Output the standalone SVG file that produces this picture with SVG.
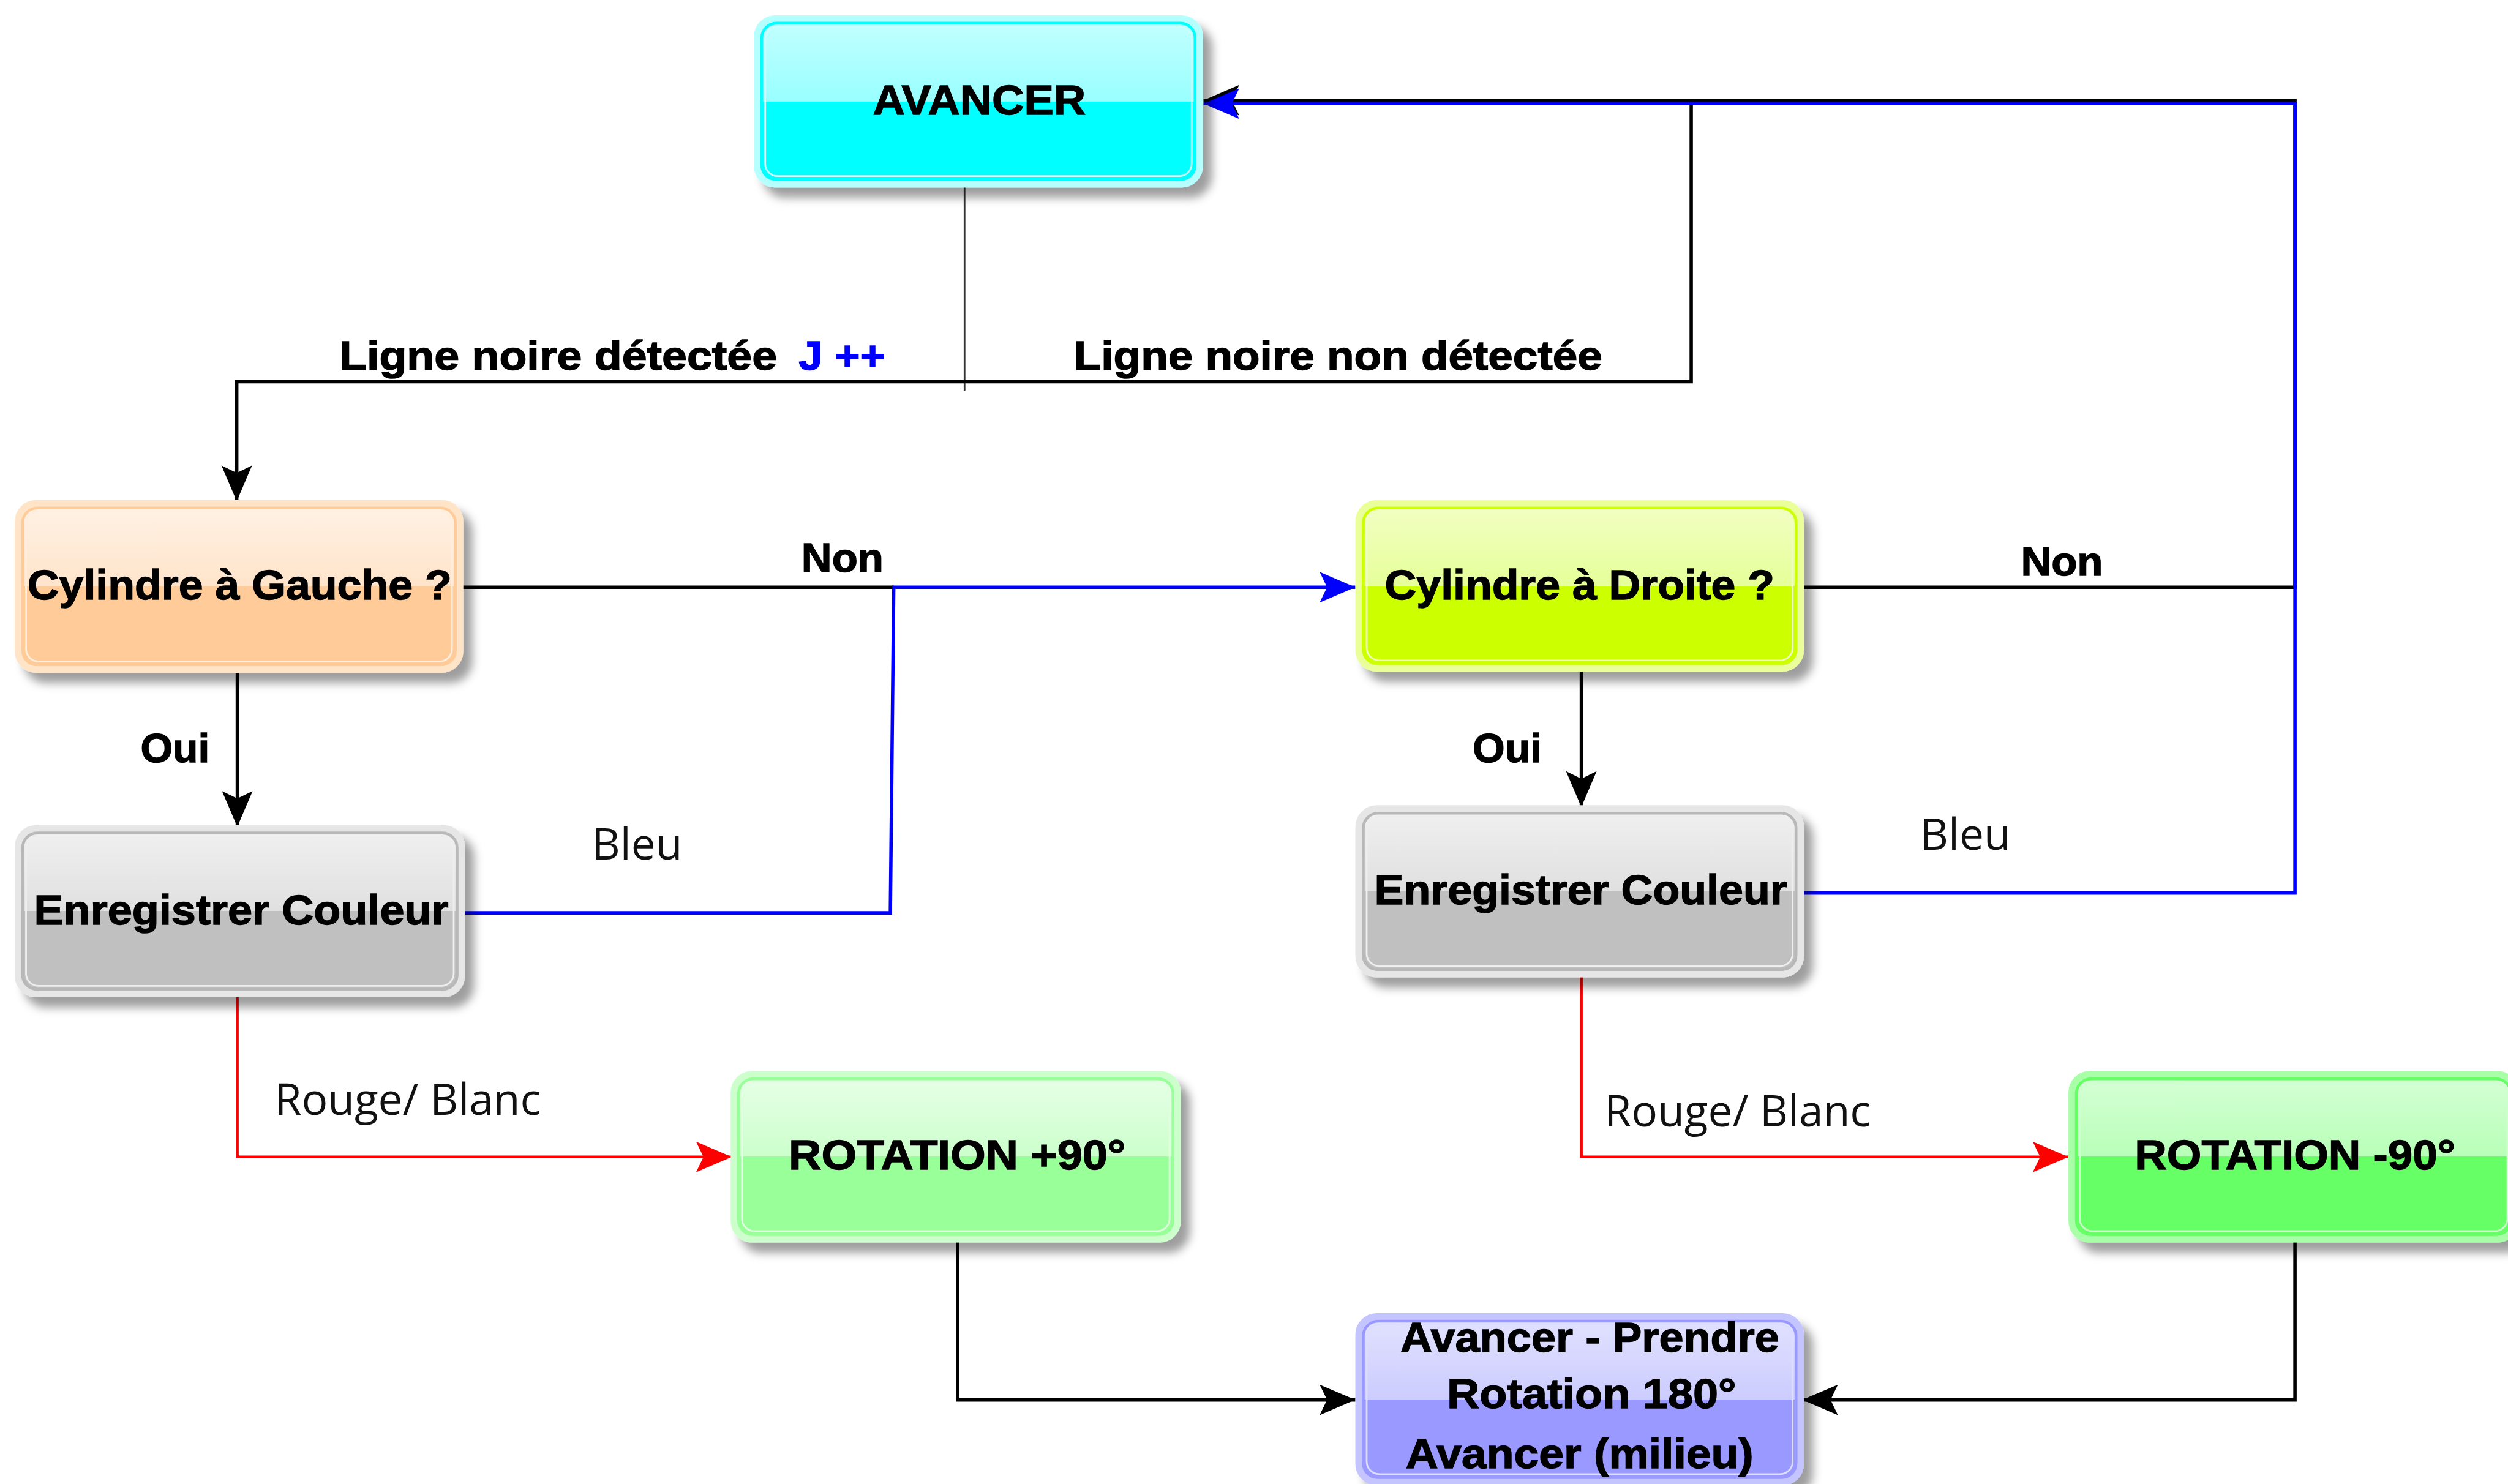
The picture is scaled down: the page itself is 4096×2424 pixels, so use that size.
<svg xmlns="http://www.w3.org/2000/svg" width="4096" height="2424" viewBox="0 0 4096 2424">
<defs>
<style>
.nt{font-family:"Liberation Sans",Arial,sans-serif;font-weight:bold;font-size:75px;fill:#000;stroke:#000;stroke-width:1.5;text-anchor:middle}
.lb{font-family:"Liberation Sans",Arial,sans-serif;font-weight:bold;font-size:72px;fill:#000;stroke:#000;stroke-width:1.5}
.ln{font-family:"Open Sans","Noto Sans",sans-serif;font-size:77px;fill:#111;text-anchor:middle}
.k{fill:none;stroke:#000;stroke-width:6}
.b{fill:none;stroke:#0000FF;stroke-width:6}
.r{fill:none;stroke:#FF0000;stroke-width:5}
.thin{fill:none;stroke:#333;stroke-width:3}
.sh{filter:url(#shadow)}
</style>
<filter id="shadow" x="-10%" y="-10%" width="130%" height="140%">
<feDropShadow dx="16" dy="18" stdDeviation="8" flood-color="#000" flood-opacity="0.38"/>
</filter>
<linearGradient id="gCyan" x1="0" y1="0" x2="0" y2="1"><stop offset="0" stop-color="#C4FFFF"/><stop offset="0.5" stop-color="#99FFFF"/><stop offset="0.5" stop-color="#00FFFF"/><stop offset="1" stop-color="#00FFFF"/></linearGradient>
<linearGradient id="gOrange" x1="0" y1="0" x2="0" y2="1"><stop offset="0" stop-color="#FFF2E6"/><stop offset="0.5" stop-color="#FFE4CA"/><stop offset="0.5" stop-color="#FFCC99"/><stop offset="1" stop-color="#FFCC99"/></linearGradient>
<linearGradient id="gLime" x1="0" y1="0" x2="0" y2="1"><stop offset="0" stop-color="#F2FFC4"/><stop offset="0.5" stop-color="#E6FF99"/><stop offset="0.5" stop-color="#CCFF00"/><stop offset="1" stop-color="#CCFF00"/></linearGradient>
<linearGradient id="gGray" x1="0" y1="0" x2="0" y2="1"><stop offset="0" stop-color="#F0F0F0"/><stop offset="0.5" stop-color="#E0E0E0"/><stop offset="0.5" stop-color="#C0C0C0"/><stop offset="1" stop-color="#C0C0C0"/></linearGradient>
<linearGradient id="gGreen1" x1="0" y1="0" x2="0" y2="1"><stop offset="0" stop-color="#E8FFE8"/><stop offset="0.5" stop-color="#CCFFCC"/><stop offset="0.5" stop-color="#99FF99"/><stop offset="1" stop-color="#99FF99"/></linearGradient>
<linearGradient id="gGreen2" x1="0" y1="0" x2="0" y2="1"><stop offset="0" stop-color="#D6FFD6"/><stop offset="0.5" stop-color="#B8FFB8"/><stop offset="0.5" stop-color="#66FF66"/><stop offset="1" stop-color="#66FF66"/></linearGradient>
<linearGradient id="gPurple" x1="0" y1="0" x2="0" y2="1"><stop offset="0" stop-color="#E2E2FF"/><stop offset="0.5" stop-color="#CCCCFF"/><stop offset="0.5" stop-color="#9999FF"/><stop offset="1" stop-color="#9999FF"/></linearGradient>
<marker id="aK" markerUnits="userSpaceOnUse" orient="auto" markerWidth="80" markerHeight="80" refX="70" refY="40" viewBox="0 0 80 80"><path d="M70,40 L7,13 L20,40 L7,67 Z" fill="#000"/></marker>
<marker id="aB" markerUnits="userSpaceOnUse" orient="auto" markerWidth="80" markerHeight="80" refX="70" refY="40" viewBox="0 0 80 80"><path d="M70,40 L7,13 L20,40 L7,67 Z" fill="#0000FF"/></marker>
<marker id="aR" markerUnits="userSpaceOnUse" orient="auto" markerWidth="80" markerHeight="80" refX="70" refY="40" viewBox="0 0 80 80"><path d="M70,40 L7,13 L20,40 L7,67 Z" fill="#FF0000"/></marker>
</defs>
<rect width="4096" height="2424" fill="#FFFFFF"/>
<g transform="scale(0.925)">

<g id="connectors">
<path class="thin" d="M1703,325 L1703,690"/>
<path class="k" d="M2986,178 L2986,674 L418,674 L418,885" marker-end="url(#aK)"/>
<path class="k" d="M3179,1037 L4052,1037 L4052,177 L2125,177" marker-end="url(#aK)"/>
<path class="b" d="M3179,1577 L4052,1577 L4052,183 L2125,183" marker-end="url(#aB)"/>
<path class="k" d="M812,1037 L1578,1037"/>
<path class="b" d="M815,1612 L1572,1612 L1578,1037 L2393,1037" marker-end="url(#aB)"/>
<path class="k" d="M419,1182 L419,1460" marker-end="url(#aK)"/>
<path class="k" d="M2792,1180 L2792,1425" marker-end="url(#aK)"/>
<path class="r" d="M419,1755 L419,2043 L1292,2043" marker-end="url(#aR)"/>
<path class="r" d="M2792,1720 L2792,2043 L3652,2043" marker-end="url(#aR)"/>
<path class="k" d="M1691,2188 L1691,2472 L2393,2472" marker-end="url(#aK)"/>
<path class="k" d="M4052,2188 L4052,2472 L3182,2472" marker-end="url(#aK)"/>

<text class="lb" x="599" y="653" textLength="773" lengthAdjust="spacingAndGlyphs">Ligne noire détectée</text>
<text class="lb" x="1410" y="653" style="fill:#0000FF;stroke:#0000FF" textLength="153" lengthAdjust="spacingAndGlyphs">J ++</text>
<text class="lb" x="1896" y="653" textLength="933" lengthAdjust="spacingAndGlyphs">Ligne noire non détectée</text>
<text class="lb" x="1415" y="1010" textLength="145" lengthAdjust="spacingAndGlyphs">Non</text>
<text class="lb" x="3568" y="1016" textLength="145" lengthAdjust="spacingAndGlyphs">Non</text>
<text class="lb" x="248" y="1346" textLength="122" lengthAdjust="spacingAndGlyphs">Oui</text>
<text class="lb" x="2600" y="1346" textLength="122" lengthAdjust="spacingAndGlyphs">Oui</text>
<text class="ln" x="1125" y="1518">Bleu</text>
<text class="ln" x="3470" y="1501">Bleu</text>
<text class="ln" x="720" y="1969">Rouge/ Blanc</text>
<text class="ln" x="3068" y="1989">Rouge/ Blanc</text>
</g>

<g id="n-avancer">
<rect class="sh" x="1337" y="33" width="781" height="292" rx="32" fill="url(#gCyan)" stroke="#B5FFFF" stroke-width="12"/>
<rect x="1345" y="41" width="765" height="276" rx="26" fill="none" stroke="#00FFFF" stroke-width="5"/>
<rect x="1351" y="47" width="753" height="264" rx="22" fill="none" stroke="#C8FFFF" stroke-width="3"/>
<text class="nt" x="1729" y="202" textLength="376" lengthAdjust="spacingAndGlyphs">AVANCER</text>
</g>

<g id="n-cyl-gauche">
<rect class="sh" x="32" y="889" width="780" height="293" rx="32" fill="url(#gOrange)" stroke="#FFE4C8" stroke-width="12"/>
<rect x="40" y="897" width="764" height="277" rx="26" fill="none" stroke="#FFCC99" stroke-width="5"/>
<rect x="46" y="903" width="752" height="265" rx="22" fill="none" stroke="#FFEEDD" stroke-width="3"/>
<text class="nt" x="423" y="1058" textLength="749" lengthAdjust="spacingAndGlyphs">Cylindre à Gauche ?</text>
</g>

<g id="n-cyl-droite">
<rect class="sh" x="2399" y="889" width="780" height="291" rx="32" fill="url(#gLime)" stroke="#EAFF99" stroke-width="12"/>
<rect x="2407" y="897" width="764" height="275" rx="26" fill="none" stroke="#CCFF00" stroke-width="5"/>
<rect x="2413" y="903" width="752" height="263" rx="22" fill="none" stroke="#F0FFC0" stroke-width="3"/>
<text class="nt" x="2789" y="1058" textLength="688" lengthAdjust="spacingAndGlyphs">Cylindre à Droite ?</text>
</g>

<g id="n-enr-gauche">
<rect class="sh" x="32" y="1463" width="783" height="292" rx="32" fill="url(#gGray)" stroke="#E6E6E6" stroke-width="12"/>
<rect x="40" y="1471" width="767" height="276" rx="26" fill="none" stroke="#B8B8B8" stroke-width="5"/>
<rect x="46" y="1477" width="755" height="264" rx="22" fill="none" stroke="#EEEEEE" stroke-width="3"/>
<text class="nt" x="426" y="1632" textLength="732" lengthAdjust="spacingAndGlyphs">Enregistrer Couleur</text>
</g>

<g id="n-enr-droite">
<rect class="sh" x="2399" y="1428" width="780" height="292" rx="32" fill="url(#gGray)" stroke="#E6E6E6" stroke-width="12"/>
<rect x="2407" y="1436" width="764" height="276" rx="26" fill="none" stroke="#B8B8B8" stroke-width="5"/>
<rect x="2413" y="1442" width="752" height="264" rx="22" fill="none" stroke="#EEEEEE" stroke-width="3"/>
<text class="nt" x="2791" y="1597" textLength="729" lengthAdjust="spacingAndGlyphs">Enregistrer Couleur</text>
</g>

<g id="n-rot-plus">
<rect class="sh" x="1296" y="1897" width="783" height="291" rx="32" fill="url(#gGreen1)" stroke="#CCFFCC" stroke-width="12"/>
<rect x="1304" y="1905" width="767" height="275" rx="26" fill="none" stroke="#99FF99" stroke-width="5"/>
<rect x="1310" y="1911" width="755" height="263" rx="22" fill="none" stroke="#E0FFE0" stroke-width="3"/>
<text class="nt" x="1690" y="2065" textLength="595" lengthAdjust="spacingAndGlyphs">ROTATION +90°</text>
</g>

<g id="n-rot-moins">
<rect class="sh" x="3658" y="1897" width="783" height="291" rx="32" fill="url(#gGreen2)" stroke="#A8FFA8" stroke-width="12"/>
<rect x="3666" y="1905" width="767" height="275" rx="26" fill="none" stroke="#66FF66" stroke-width="5"/>
<rect x="3672" y="1911" width="755" height="263" rx="22" fill="none" stroke="#CCFFCC" stroke-width="3"/>
<text class="nt" x="4052" y="2065" textLength="566" lengthAdjust="spacingAndGlyphs">ROTATION -90°</text>
</g>

<g id="n-final">
<rect class="sh" x="2399" y="2325" width="780" height="292" rx="32" fill="url(#gPurple)" stroke="#C4C4FF" stroke-width="12"/>
<rect x="2407" y="2333" width="764" height="276" rx="26" fill="none" stroke="#9999FF" stroke-width="5"/>
<rect x="2413" y="2339" width="752" height="264" rx="22" fill="none" stroke="#DDDDFF" stroke-width="3"/>
<text class="nt" x="2807" y="2387" textLength="669" lengthAdjust="spacingAndGlyphs">Avancer - Prendre</text>
<text class="nt" x="2810" y="2487" textLength="511" lengthAdjust="spacingAndGlyphs">Rotation 180°</text>
<text class="nt" x="2789" y="2592" textLength="614" lengthAdjust="spacingAndGlyphs">Avancer (milieu)</text>
</g>

</g>
</svg>
